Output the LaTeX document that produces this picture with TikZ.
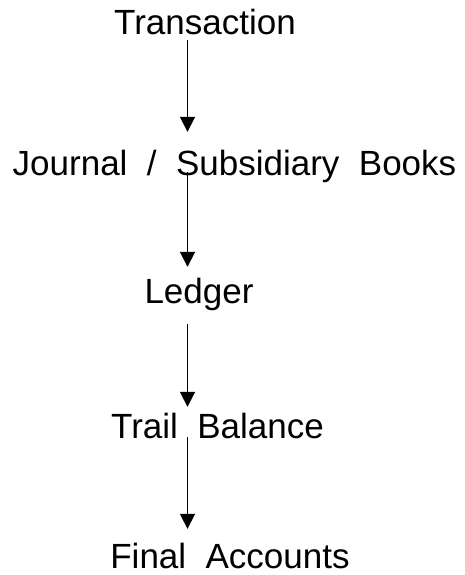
\documentclass[tikz,border=0pt]{standalone}
\usepackage{fontspec}
\setmainfont{Liberation Sans}
\usetikzlibrary{arrows.meta}

\begin{document}
\begin{tikzpicture}[x=1pt, y=-1pt,
    step label/.style={anchor=base, inner sep=0pt, text height=26pt, text depth=0pt,
      font=\fontsize{35}{42}\selectfont},
    flow/.style={line width=1.8pt, -{Triangle[width=15pt,length=15pt]}}]
  \useasboundingbox (0,0) rectangle (464,575);

  \node[step label] (trans)   at (205,35)   {Transaction};
  \node[step label] (journal) at (234.5,175) {Journal\ \ /\ \ Subsidiary\ \ Books};
  \node[step label] (ledger)  at (199,303)  {Ledger};
  \node[step label] (trail)   at (217.5,438) {Trail\ \ Balance};
  \node[step label] (final)   at (230,568)  {Final\ \ Accounts};
  \coordinate (axis) at (187.5,0);

  \draw[flow, shorten <=5pt, shorten >=17pt] (trans.south -| axis) -- (journal.north -| axis);
  \draw[flow, shorten <=-3pt, shorten >=10pt] (journal.south -| axis) -- (ledger.north -| axis);
  \draw[flow, shorten <=21pt, shorten >=5pt] (ledger.south -| axis) -- (trail.north -| axis);
  \draw[flow, shorten <=-1pt, shorten >=13pt] (trail.south -| axis) -- (final.north -| axis);
\end{tikzpicture}
\end{document}
